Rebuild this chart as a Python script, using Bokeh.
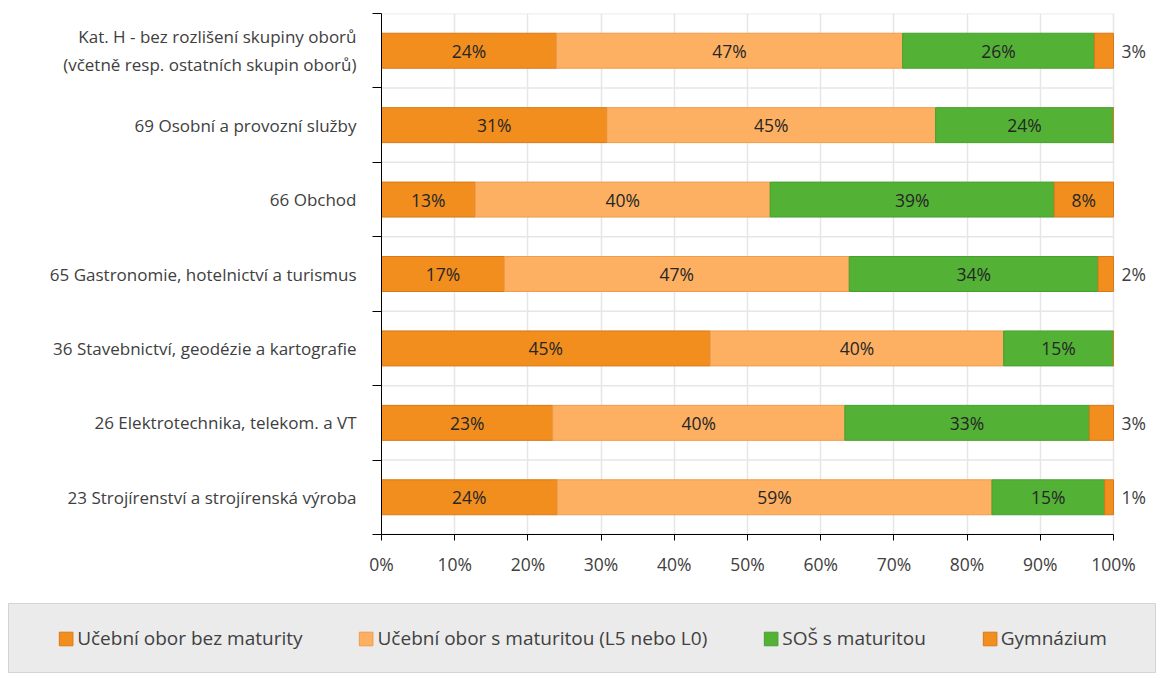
import numpy as np
from bokeh.plotting import figure
from bokeh.models import (ColumnDataSource, Range1d, FixedTicker, LabelSet,
                          Legend, LegendItem)
from bokeh.core.properties import value
from bokeh.layouts import column
from bokeh.embed import file_html
from bokeh.resources import INLINE

# ---- data (top to bottom) ----
categories = [
    "Kat. H - bez rozlišení skupiny oborů\n(včetně resp. ostatních skupin oborů)",
    "69 Osobní a provozní služby",
    "66 Obchod",
    "65 Gastronomie, hotelnictví a turismus",
    "36 Stavebnictví, geodézie a kartografie",
    "26 Elektrotechnika, telekom. a VT",
    "23 Strojírenství a strojírenská výroba",
]
ucebni_bez = [23.9, 30.8, 12.8, 16.8, 44.9, 23.4, 24.0]
ucebni_s = [47.3, 44.9, 40.3, 47.1, 40.1, 39.9, 59.4]
sos = [26.2, 24.3, 38.8, 34.0, 15.0, 33.4, 15.4]
gymnazium = [2.6, 0.0, 8.1, 2.1, 0.0, 3.3, 1.2]

series_names = ["Učební obor bez maturity", "Učební obor s maturitou (L5 nebo L0)",
                "SOŠ s maturitou", "Gymnázium"]
series_values = [ucebni_bez, ucebni_s, sos, gymnazium]
x_ticks = [0, 10, 20, 30, 40, 50, 60, 70, 80, 90, 100]

fills = ["#F28E1E", "#FDB062", "#53B136", "#F28E1E"]
edges = ["#D8781A", "#EE9C4C", "#46A02E", "#D8781A"]

FONT = "Open Sans"
FS_CAT = "17px"
FS_NUM = "17.5px"
FS_LEG = "19px"
TXT = "#404040"

n = len(categories)
ypos = [n - 1 - i for i in range(n)]  # top category highest

# frame: x 381..1156 px, 0..100 % spans 381..1113 px
x_max = 100 * (1156 - 381) / (1113 - 381)

p = figure(width=1156, height=603, output_backend="svg", toolbar_location=None,
           x_range=Range1d(0, x_max), y_range=Range1d(-0.5, n - 0.5),
           min_border_left=381, min_border_right=0, min_border_top=13,
           min_border_bottom=69)
p.frame_align = False
p.outline_line_color = None
p.background_fill_color = "white"
p.border_fill_color = "white"

# category boundary lines (0..100 %)
bounds_y = [b - 0.5 for b in range(n + 1)]
p.segment(x0=[0] * len(bounds_y), x1=[100] * len(bounds_y), y0=bounds_y, y1=bounds_y,
          line_color="#E6E6E6", line_width=1.5)

left = [0.0] * n
inside_x, inside_y, inside_t = [], [], []
out_x, out_y, out_t = [], [], []
for k, (vals, fc, lc) in enumerate(zip(series_values, fills, edges)):
    right = [l + v for l, v in zip(left, vals)]
    src = ColumnDataSource(dict(y=ypos, left=left, right=right))
    p.hbar(y="y", left="left", right="right", height=0.47, source=src,
           fill_color=fc, line_color=lc, line_width=1)
    for i in range(n):
        v = vals[i]
        if v <= 0:
            continue
        if v >= 5:
            inside_x.append(left[i] + v / 2)
            inside_y.append(ypos[i])
            inside_t.append(f"{round(v)}%")
        else:
            out_x.append(right[i])
            out_y.append(ypos[i])
            out_t.append(f"{round(v)}%")
    left = right

in_src = ColumnDataSource(dict(x=inside_x, y=inside_y, t=inside_t))
p.add_layout(LabelSet(x="x", y="y", text="t", source=in_src, text_align="center",
                      text_baseline="middle", text_font=value(FONT),
                      text_font_size=value(FS_NUM), text_color="#262626"))
out_src = ColumnDataSource(dict(x=out_x, y=out_y, t=out_t))
p.add_layout(LabelSet(x="x", y="y", text="t", source=out_src, text_align="left",
                      text_baseline="middle", x_offset=8, text_font=value(FONT),
                      text_font_size=value(FS_NUM), text_color=TXT))

# y axis: labels at centers, ticks at boundaries
yax = p.yaxis[0]
yax.ticker = FixedTicker(ticks=ypos, minor_ticks=bounds_y)
yax.major_label_overrides = {y: c for y, c in zip(ypos, categories)}
yax.major_tick_out = 0
yax.major_tick_in = 0
yax.minor_tick_out = 9
yax.minor_tick_in = 0
yax.minor_tick_line_color = "black"
yax.axis_line_color = "black"
yax.major_label_standoff = 16
yax.major_label_text_font = FONT
yax.major_label_text_font_size = FS_CAT
yax.major_label_text_color = TXT

p.ygrid.grid_line_color = None

xax = p.xaxis[0]
xax.bounds = (0, 100)
xax.ticker = FixedTicker(ticks=x_ticks)
xax.major_label_overrides = {t: f"{t}%" for t in x_ticks}
xax.major_tick_out = 6
xax.major_tick_in = 0
xax.major_tick_line_color = "black"
xax.minor_tick_line_color = None
xax.axis_line_color = "black"
xax.major_label_standoff = 11
xax.major_label_text_font = FONT
xax.major_label_text_font_size = FS_NUM
xax.major_label_text_color = TXT
p.xgrid.grid_line_color = "#E6E6E6"
p.xgrid.grid_line_width = 1.5

# ---- legend strip ----
lp = figure(width=1148, height=70, output_backend="svg", toolbar_location=None,
            x_range=Range1d(0, 1), y_range=Range1d(0, 1),
            x_axis_type=None, y_axis_type=None, min_border=0)
lp.frame_align = False
lp.margin = (0, 0, 0, 8)
lp.background_fill_color = "#EBEBEB"
lp.border_fill_color = "#EBEBEB"
lp.outline_line_color = "#D4D4D4"
lp.xgrid.visible = False
lp.ygrid.visible = False
items = []
nan = np.array([np.nan])
for name, fc, lc in zip(series_names, fills, edges):
    r = lp.quad(left=nan, right=nan, top=nan, bottom=nan, fill_color=fc,
                line_color=lc, line_width=1)
    items.append(LegendItem(label=name, renderers=[r]))
leg = Legend(items=items, orientation="horizontal", location="center",
             background_fill_alpha=0, border_line_color=None,
             glyph_width=17, glyph_height=17, label_standoff=3, spacing=55,
             label_text_font=FONT, label_text_font_size=FS_LEG,
             label_text_color=TXT, padding=0, margin=0)
lp.add_layout(leg, "center")

layout = column(p, lp, spacing=0)
open("out.html", "w").write(file_html(layout, INLINE))
